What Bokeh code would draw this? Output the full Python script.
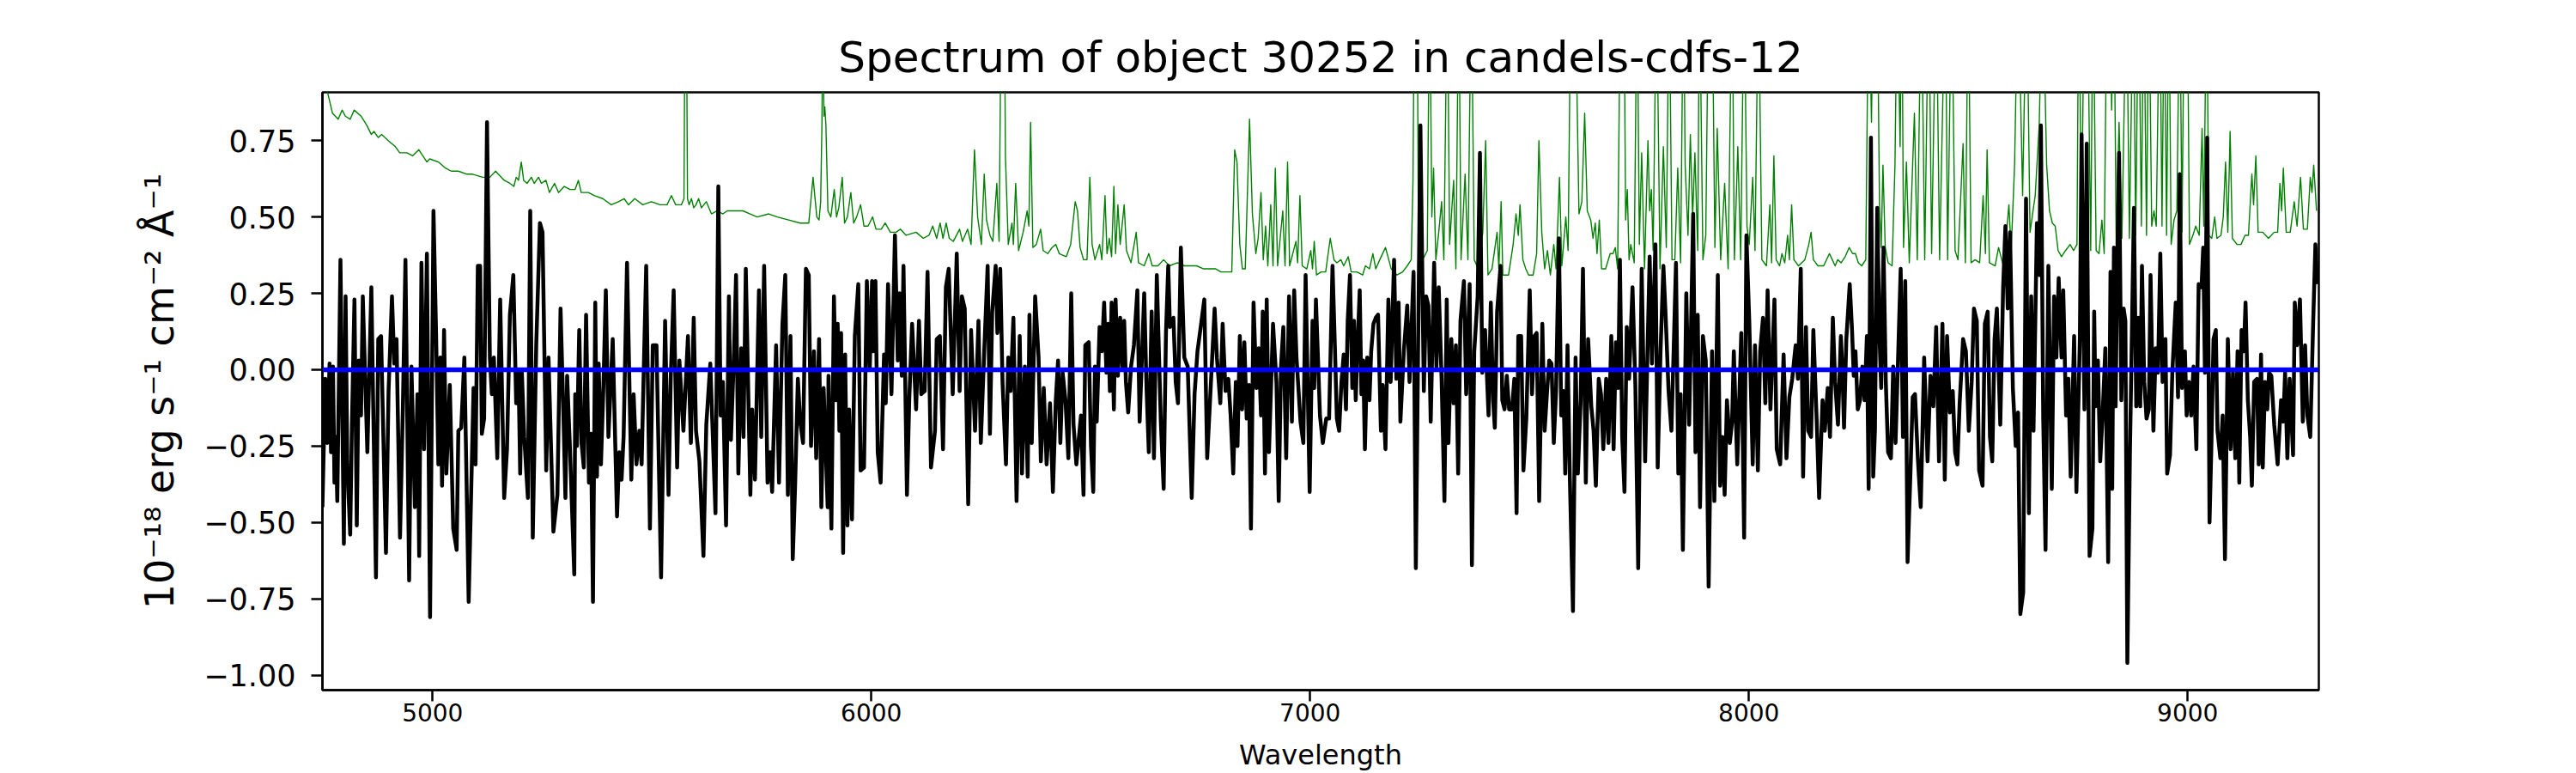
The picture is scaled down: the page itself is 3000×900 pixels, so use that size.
from bokeh.plotting import figure
from bokeh.models import Range1d, FixedTicker, Span
from bokeh.embed import file_html
from bokeh.resources import INLINE

# ---------------- data ----------------
wave_flux = [
    4749.0, 4755.5, 4760.1, 4765.3, 4768.6, 4773.1, 4776.4, 4779.6, 4782.9, 4790.1,
    4797.9, 4801.8, 4805.7, 4812.3, 4816.2, 4822.0, 4827.3, 4831.8, 4837.0, 4841.0,
    4851.4, 4860.5, 4871.0, 4876.2, 4882.7, 4893.8, 4899.7, 4907.5, 4912.7, 4917.9,
    4925.8, 4932.3, 4938.2, 4946.6, 4951.9, 4959.7, 4965.6, 4969.5, 4974.7, 4980.6,
    4987.1, 4994.3, 5002.1, 5008.0, 5013.2, 5017.7, 5021.6, 5026.2, 5031.4, 5039.3,
    5047.1, 5054.9, 5058.8, 5065.4, 5072.5, 5082.3, 5093.4, 5098.0, 5103.2, 5108.4,
    5112.3, 5117.5, 5124.1, 5130.6, 5135.1, 5139.7, 5147.5, 5154.1, 5163.2, 5169.7,
    5176.3, 5184.1, 5190.6, 5195.8, 5199.7, 5203.6, 5208.9, 5217.3, 5222.6, 5228.4,
    5236.3, 5244.7, 5250.6, 5259.1, 5264.3, 5275.4, 5284.5, 5291.7, 5297.6, 5302.8,
    5306.7, 5313.2, 5323.0,
    5325.1, 5329.0, 5334.3, 5339.5, 5344.7, 5349.9, 5356.4, 5361.0, 5365.6, 5370.8,
    5374.7, 5378.6, 5383.8, 5389.1, 5394.9, 5400.8, 5410.6, 5420.4, 5425.6, 5430.8,
    5435.4, 5443.2, 5453.0, 5458.2, 5464.7, 5471.2, 5476.5, 5480.4, 5486.9, 5495.4,
    5501.9, 5510.4, 5520.8, 5530.0, 5537.8, 5543.0, 5549.5, 5557.4, 5562.6, 5571.7,
    5582.1, 5588.7, 5595.2, 5600.4, 5608.2, 5617.4, 5623.9, 5633.0, 5644.8, 5651.3,
    5656.5, 5661.7, 5668.9, 5675.4, 5680.0, 5686.5, 5691.7, 5696.9, 5703.5, 5708.7,
    5713.9, 5724.3, 5728.3, 5734.8, 5743.9, 5749.1, 5755.7, 5763.5, 5769.3, 5773.9,
    5783.0, 5789.6, 5797.4, 5803.9, 5809.8, 5815.7, 5820.9, 5826.1, 5832.6, 5837.8,
    5844.4, 5850.9, 5857.4, 5862.6, 5869.2, 5874.4, 5880.9, 5886.1, 5891.3, 5900.5,
    5902.4, 5909.0, 5914.8, 5919.4, 5923.3, 5927.2, 5931.1, 5935.7, 5940.3, 5945.5,
    5949.4, 5955.9, 5962.4, 5970.3, 5975.5, 5983.3, 5989.8, 5996.4, 6001.6, 6004.2,
    6009.4, 6014.6, 6021.2, 6029.0, 6032.9, 6038.1, 6045.9, 6053.8, 6060.3, 6064.2,
    6069.4, 6073.3, 6081.2, 6086.4, 6092.9, 6102.0, 6108.6, 6113.8, 6121.6, 6128.1,
    6136.0, 6145.1, 6149.0, 6156.2, 6163.4, 6169.9, 6176.4, 6185.5, 6194.7, 6201.2,
    6206.4, 6212.9, 6220.8, 6227.3, 6236.4, 6244.2, 6249.5, 6257.3, 6265.1, 6270.3,
    6275.5, 6283.4, 6287.3, 6293.8, 6299.0, 6306.9, 6312.1, 6317.3, 6323.8, 6331.0,
    6338.2, 6343.4, 6349.9, 6356.4, 6360.4, 6365.6, 6373.4, 6381.2, 6386.4, 6393.0,
    6399.5, 6407.3, 6413.8, 6420.4, 6425.6, 6430.8, 6436.0, 6442.5, 6449.1, 6455.6,
    6460.8, 6467.3, 6477.8,
    6483.6, 6487.6, 6495.4, 6500.6, 6505.8, 6509.7, 6513.7, 6520.2, 6525.4, 6530.6,
    6535.8, 6539.7, 6543.7, 6547.6, 6552.8, 6556.7, 6561.9, 6567.1, 6572.4, 6576.3,
    6580.2, 6585.4, 6591.9, 6598.5, 6606.3, 6611.5, 6616.7, 6621.9, 6627.2, 6632.4,
    6638.9, 6644.1, 6650.6, 6659.8, 6666.3, 6671.5, 6676.7, 6680.6, 6688.5, 6693.7,
    6698.9, 6705.4, 6713.3, 6721.1, 6730.2, 6736.7, 6743.3, 6749.8, 6758.9, 6765.4,
    6772.0, 6782.4, 6787.6, 6795.4, 6800.7, 6807.2, 6813.7, 6818.9, 6824.8, 6830.7,
    6834.6, 6839.8, 6845.0, 6850.2, 6855.5, 6860.7, 6865.2, 6871.1, 6877.6, 6882.9,
    6888.1, 6892.0, 6897.2, 6901.1, 6906.3, 6915.5, 6923.3, 6928.5, 6933.7, 6939.0,
    6945.5, 6952.0, 6958.5, 6963.7, 6969.0, 6978.1, 6984.6, 6989.8, 6999.0, 7005.5,
    7009.4, 7013.3, 7022.5, 7029.0, 7036.8, 7043.3, 7051.1, 7056.4,
    7061.0, 7066.2, 7071.4, 7076.6, 7081.8, 7085.7, 7090.9, 7096.2, 7100.1, 7104.0,
    7107.9, 7113.1, 7117.0, 7121.0, 7124.9, 7130.1, 7135.3, 7139.2, 7144.4, 7149.7,
    7154.9, 7161.4, 7165.3, 7171.8, 7178.4, 7183.6, 7191.4, 7196.6, 7201.8, 7205.8,
    7213.6, 7221.4, 7226.6, 7235.8, 7241.0, 7251.4, 7259.2, 7264.5, 7269.7, 7274.9,
    7282.7, 7287.9, 7293.2, 7299.7, 7306.2, 7311.4, 7315.3, 7321.9, 7327.1, 7332.3,
    7337.5, 7342.7, 7350.6, 7355.8, 7363.6, 7368.8, 7374.1, 7381.9, 7387.1, 7392.3,
    7398.8, 7406.7, 7411.9, 7417.1, 7421.0, 7426.2, 7434.1, 7438.0, 7443.2, 7448.4,
    7453.6, 7460.2, 7465.4, 7470.6, 7474.5, 7481.0, 7486.2, 7492.8, 7500.6, 7505.8,
    7511.0, 7516.3, 7522.1, 7529.3, 7534.5, 7539.7, 7545.0, 7550.2, 7555.4, 7560.6,
    7567.1, 7572.4, 7577.6, 7581.5, 7586.7, 7591.9, 7599.1, 7605.0, 7610.2, 7616.7,
    7621.9, 7628.4, 7633.7,
    7640.9, 7646.1, 7651.3, 7657.8, 7663.0, 7668.2, 7674.8, 7680.0, 7686.5, 7691.7,
    7697.0, 7702.2, 7706.1, 7711.3, 7716.5, 7721.7, 7727.0, 7734.8, 7741.3, 7747.8,
    7755.7, 7763.5, 7768.7, 7773.9, 7779.1, 7787.0, 7792.2, 7798.7, 7805.2, 7810.5,
    7817.0, 7823.5, 7828.7, 7833.9, 7839.2, 7844.4, 7849.6, 7857.4, 7863.9, 7873.1,
    7878.3, 7883.5, 7888.7, 7895.3, 7901.8, 7908.3, 7916.1, 7921.3, 7929.2, 7934.4,
    7939.6, 7944.8, 7950.0, 7956.6, 7961.8, 7965.7, 7973.5, 7982.7, 7989.2, 7994.4,
    8000.9, 8008.8, 8014.0, 8020.5, 8025.7, 8032.2, 8037.5, 8042.7, 8049.2, 8058.3,
    8063.5, 8071.4, 8079.2, 8085.7, 8092.3, 8098.8, 8106.6, 8111.8, 8118.3, 8123.6,
    8130.1, 8135.3, 8141.8, 8147.0, 8154.9, 8160.1, 8167.9, 8173.1, 8179.7, 8184.9,
    8191.4, 8196.6, 8203.1, 8209.7,
    8212.9, 8216.9, 8222.1, 8229.9, 8235.1, 8239.0, 8243.0, 8248.2, 8253.4, 8258.6,
    8263.8, 8269.0, 8273.0, 8278.2, 8283.4, 8287.3, 8292.5, 8297.7, 8301.6, 8306.9,
    8312.1, 8317.3, 8323.8, 8329.0, 8334.3, 8339.5, 8346.0, 8351.2, 8356.4, 8361.7,
    8368.2, 8373.4, 8378.6, 8385.1, 8391.7, 8399.5, 8407.3, 8413.8, 8420.4, 8426.9,
    8433.4, 8441.2, 8446.5, 8451.7, 8458.2, 8464.7, 8470.0, 8475.2, 8480.4, 8488.2,
    8494.7, 8501.3, 8507.8, 8513.0, 8519.5, 8524.7, 8532.6, 8537.8, 8544.3, 8549.5,
    8554.7, 8560.0, 8565.2, 8573.0, 8579.5, 8584.7, 8590.0, 8595.2, 8601.7, 8608.2,
    8613.5, 8618.7, 8625.2, 8631.7, 8638.2, 8643.5, 8648.7, 8656.5, 8661.7, 8665.6,
    8670.9, 8676.1, 8682.6, 8690.4, 8695.7, 8700.9, 8706.1, 8712.6, 8716.5, 8723.0,
    8728.3, 8733.5, 8741.3, 8746.5, 8754.4, 8758.3, 8764.8, 8770.0, 8776.5, 8783.0,
    8787.0,
    8790.2, 8795.5, 8800.7, 8805.9, 8812.4, 8818.9, 8824.2, 8828.1, 8832.0, 8835.9,
    8839.8, 8843.7, 8848.9, 8854.2, 8858.1, 8862.6, 8868.5, 8877.6, 8882.9, 8888.1,
    8892.0, 8895.9, 8901.1, 8906.3, 8911.6, 8915.5, 8922.0, 8927.2, 8932.4, 8937.7,
    8942.9, 8949.4, 8953.3, 8959.8, 8965.1, 8972.9, 8978.1, 8982.0, 8987.2, 8993.8,
    8997.7, 9002.9, 9008.1, 9013.3, 9019.9, 9025.1, 9031.6, 9035.5, 9039.4, 9044.6,
    9049.9, 9053.8, 9059.0, 9064.2, 9068.1, 9074.6, 9079.9, 9085.1, 9091.6, 9098.1,
    9103.3, 9108.6, 9113.8, 9117.7, 9122.9, 9128.1, 9132.0, 9137.3, 9142.5, 9146.4,
    9151.6, 9158.1, 9162.0, 9167.3, 9171.2, 9176.4, 9181.6, 9185.5, 9190.8, 9197.3,
    9205.1, 9212.9, 9218.1, 9222.1, 9227.3, 9232.5, 9240.3, 9244.2, 9249.4, 9256.0,
    9262.5, 9267.7, 9272.9, 9279.5, 9286.0, 9291.2, 9295.1,
]

flux = [
    -0.45, -0.03, -0.24, 0.02, -0.27, 0.01, -0.37, -0.22, -0.43, 0.36,
    -0.57, 0.24, -0.31, -0.54, -0.18, 0.23, -0.51, 0.03, -0.15, 0.24,
    -0.27, 0.27, -0.68, 0.10, 0.11, -0.60, -0.07, 0.24, 0.02, 0.10,
    -0.55, -0.13, 0.36, -0.69, 0.01, -0.45, -0.08, -0.61, 0.35, -0.26,
    0.38, -0.81, 0.52, 0.12, -0.31, 0.04, -0.38, 0.13, -0.34, -0.05,
    -0.52, -0.59, -0.20, -0.19, 0.04, -0.76, -0.06, -0.31, 0.34, 0.34,
    -0.21, -0.16, 0.81, 0.04, -0.08, 0.04, -0.29, 0.23, -0.42, -0.26,
    0.18, 0.31, -0.11, 0.00, -0.34, -0.01, -0.22, -0.42, 0.52, -0.55,
    0.08, 0.48, 0.45, -0.33, 0.04, -0.53, -0.41, 0.20, -0.11, -0.42,
    -0.02, -0.26, -0.67,
    -0.08, -0.25, 0.13, -0.24, -0.32, 0.18, -0.37, -0.21, -0.76, 0.22,
    -0.35, 0.02, -0.31, -0.07, 0.26, -0.22, 0.10, -0.48, -0.27, -0.36,
    -0.22, 0.35, -0.36, -0.08, -0.31, -0.20, -0.31, -0.06, 0.34, -0.52,
    0.08, 0.08, -0.68, 0.16, -0.41, -0.02, 0.26, -0.32, 0.03, -0.20,
    0.11, -0.24, 0.17, -0.20, -0.30, -0.61, -0.18, 0.02, -0.47, 0.60,
    -0.15, -0.04, -0.51, 0.24, -0.23, 0.03, 0.31, -0.34, 0.07, -0.22,
    0.33, -0.41, -0.13, -0.36, 0.26, -0.22, 0.34, -0.37, -0.27, -0.40,
    0.08, -0.37, 0.15, 0.31, -0.41, 0.11, -0.62, -0.39, -0.03, -0.17,
    -0.24, 0.33, 0.31, -0.25, 0.06, -0.29, 0.10, -0.45, -0.06, -0.45,
    -0.02, -0.52, 0.24, -0.10, 0.15, -0.20, 0.12, -0.60, 0.05, -0.51,
    -0.13, -0.49, 0.11, 0.28, -0.33, -0.32, 0.29, 0.00, 0.29, 0.06,
    0.29, -0.27, -0.37, 0.05, -0.11, 0.28, -0.08, 0.44, 0.03, 0.25,
    -0.02, 0.34, -0.41, -0.10, 0.15, -0.13, 0.16, -0.08, -0.07, 0.32,
    -0.32, -0.20, 0.10, 0.11, -0.26, 0.27, 0.33, -0.08, 0.38, -0.07,
    0.24, 0.20, -0.44, 0.13, -0.20, 0.16, -0.24, 0.06, 0.34, -0.21,
    0.19, 0.34, 0.12, 0.33, -0.04, -0.31, 0.04, -0.07, 0.17, -0.43,
    0.11, -0.34, 0.01, -0.35, 0.18, -0.24, 0.24, 0.04, -0.30, -0.06,
    -0.31, -0.11, -0.40, -0.10, 0.03, -0.24, -0.01, -0.10, -0.29, 0.25,
    -0.18, -0.31, -0.15,
    -0.41, 0.08, 0.09, -0.25, -0.40, 0.01, -0.17, 0.14, 0.06, 0.22,
    -0.01, 0.15, -0.07, 0.22, -0.13, 0.23, -0.02, 0.17, 0.01, 0.16,
    -0.04, -0.14, 0.01, 0.08, 0.26, -0.17, 0.04, 0.25, -0.06, -0.27,
    0.19, -0.29, 0.31, -0.17, -0.39, 0.12, 0.34, 0.14, 0.17, -0.04,
    -0.11, 0.40, 0.04, 0.01, -0.42, -0.08, 0.06, 0.13, 0.23, -0.29,
    -0.10, 0.20, 0.04, -0.11, 0.15, -0.07, -0.03, -0.15, -0.34, -0.04,
    -0.25, 0.11, -0.13, 0.09, -0.16, -0.05, -0.52, 0.22, -0.06, 0.07,
    -0.15, 0.19, -0.34, 0.23, -0.27, 0.15, -0.04, -0.43, 0.01, 0.14,
    -0.29, 0.24, -0.17, 0.26, 0.04, -0.17, -0.24, 0.31, -0.40, 0.16,
    -0.06, 0.23, -0.15, -0.24, -0.16, -0.16, 0.34, 0.08,
    -0.16, -0.20, -0.04, 0.05, -0.13, 0.16, 0.31, -0.06, 0.16, -0.10,
    0.07, 0.26, -0.08, 0.03, -0.26, 0.04, -0.10, 0.06, 0.15, 0.17,
    0.18, -0.20, -0.05, -0.26, 0.23, -0.04, 0.36, -0.03, 0.22, -0.17,
    0.06, 0.21, -0.04, 0.32, -0.65, 0.80, -0.07, 0.24, 0.21, -0.17,
    0.35, 0.01, 0.27, -0.03, -0.43, 0.23, -0.24, 0.10, -0.11, 0.08,
    -0.34, 0.16, 0.29, -0.08, 0.28, -0.64, 0.06, 0.24, 0.71, -0.01,
    0.13, -0.15, 0.22, -0.10, -0.19, 0.19, 0.34, -0.10, -0.13, -0.02,
    -0.13, -0.13, -0.03, -0.47, 0.11, 0.11, -0.33, -0.16, 0.26, -0.08,
    0.11, 0.12, -0.43, 0.15, -0.20, -0.08, 0.03, 0.02, -0.24, -0.07,
    0.43, -0.15, -0.07, -0.34, 0.08, -0.35, -0.79, 0.04, -0.34, -0.10,
    0.33, -0.37, 0.10,
    -0.12, -0.20, -0.38, -0.03, -0.08, -0.26, -0.03, -0.24, 0.11, -0.26,
    0.09, -0.06, 0.36, -0.22, -0.40, 0.14, -0.03, 0.27, -0.05, -0.65,
    0.33, -0.30, 0.04, 0.37, 0.02, 0.41, -0.32, 0.06, 0.34, 0.17,
    -0.07, -0.20, 0.07, 0.35, -0.34, -0.08, -0.59, 0.25, -0.18, 0.51,
    -0.27, 0.18, -0.45, 0.11, 0.03, -0.71, 0.06, -0.43, 0.31, -0.38,
    -0.22, -0.41, -0.10, -0.24, -0.17, 0.06, -0.31, 0.12, -0.55, 0.44,
    0.16, -0.31, 0.08, -0.33, 0.06, 0.17, -0.11, 0.26, -0.13, 0.23,
    -0.26, -0.31, 0.05, -0.29, -0.09, -0.03, 0.08, -0.03, 0.33, -0.35,
    0.14, -0.20, -0.22, 0.13, -0.18, -0.42, -0.10, -0.20, -0.06, -0.22,
    0.17, -0.04, -0.18, 0.11,
    0.01, -0.19, 0.10, 0.28, 0.13, -0.02, 0.06, -0.13, -0.10, 0.01,
    -0.10, 0.11, -0.39, 0.76, -0.35, -0.20, 0.53, 0.11, -0.06, 0.40,
    -0.04, -0.27, -0.29, 0.01, -0.24, 0.01, 0.33, -0.22, 0.29, -0.63,
    -0.34, -0.09, -0.08, -0.29, -0.45, 0.04, -0.30, -0.02, -0.12, 0.14,
    -0.30, 0.15, -0.36, 0.11, -0.14, -0.07, -0.27, -0.31, -0.11, 0.10,
    0.06, -0.20, -0.04, 0.20, 0.16, -0.33, -0.38, 0.15, 0.19, -0.22,
    -0.30, 0.10, 0.20, -0.18, 0.27, 0.47, 0.20, 0.45, -0.06, -0.25,
    -0.14, -0.80, -0.73, 0.56, -0.47, 0.24, -0.20, 0.48, 0.31, 0.80,
    -0.16, -0.59, 0.34, -0.39, 0.24, 0.04, 0.30, 0.04, 0.26, -0.15,
    -0.03, -0.35, 0.11, -0.40, 0.10, 0.77, -0.13, 0.74, -0.61, -0.52,
    0.19,
    -0.12, 0.03, -0.30, -0.16, 0.07, -0.63, 0.32, -0.39, 0.40, -0.12,
    0.36, 0.71, -0.10, 0.20, 0.16, -0.96, -0.27, 0.53, -0.12, 0.17,
    -0.12, 0.34, -0.04, -0.16, -0.13, 0.31, -0.20, 0.07, -0.01, 0.38,
    -0.04, 0.10, -0.34, -0.28, -0.01, 0.22, -0.09, 0.64, -0.06, 0.06,
    -0.15, -0.04, -0.15, 0.01, -0.26, 0.28, 0.27, 0.40, -0.01, 0.76,
    -0.50, -0.27, 0.10, 0.13, -0.20, -0.29, -0.15, -0.62, 0.10, -0.26,
    -0.01, -0.29, 0.06, -0.37, 0.13, 0.06, 0.22, -0.10, -0.22, -0.38,
    -0.04, -0.03, -0.31, 0.05, -0.32, -0.04, -0.13, -0.01, -0.02, -0.18,
    -0.31, -0.10, -0.17, -0.01, -0.29, -0.03, -0.28, 0.22, 0.08, 0.23,
    -0.17, 0.08, -0.15, -0.22, 0.15, 0.41, 0.28,
]

wave_noise = [
    4749.0, 4762.0, 4771.8, 4784.9, 4794.0, 4801.2, 4812.3, 4821.4, 4837.0, 4850.1,
    4860.5, 4866.4, 4876.2, 4884.0, 4899.0, 4915.3, 4925.1, 4941.4, 4954.5, 4968.8,
    4987.1, 4993.6, 5013.2, 5029.5, 5042.5, 5058.8, 5078.4, 5091.4, 5114.3, 5130.6,
    5143.6, 5163.2, 5176.3, 5185.4, 5190.6, 5195.8, 5202.3, 5207.6, 5215.4, 5225.2,
    5231.7, 5241.5, 5248.0, 5258.4, 5266.3, 5278.0, 5287.1, 5300.2, 5313.2, 5325.0,
    5332.3, 5338.8, 5355.1, 5368.2, 5387.8, 5407.3, 5423.6, 5436.7, 5446.5, 5460.8,
    5479.1, 5498.6, 5518.2, 5534.5, 5544.3, 5554.1, 5567.1, 5573.0, 5575.5, 5578.5,
    5581.0, 5584.7, 5590.0, 5595.2, 5600.4, 5606.3, 5612.8, 5623.9, 5635.6, 5648.7,
    5661.7, 5671.5, 5691.1, 5707.4, 5723.7, 5740.0, 5766.1, 5785.7, 5811.7, 5837.8,
    5857.4, 5867.2, 5875.7, 5880.9, 5884.5, 5887.4, 5889.5, 5892.0, 5894.0, 5896.5,
    5901.1, 5907.7, 5915.5, 5920.7, 5925.9, 5933.7, 5939.0, 5945.5, 5953.3, 5959.8,
    5966.4, 5975.5, 5983.3, 5992.5, 6002.9, 6010.7, 6022.5, 6031.6, 6043.3, 6056.4,
    6066.2, 6079.2, 6102.0, 6118.3, 6131.4, 6139.9, 6149.0, 6156.8, 6163.4, 6170.5,
    6177.7, 6186.8, 6201.2, 6207.7, 6219.5, 6227.3, 6235.1, 6242.3, 6250.8, 6257.3,
    6262.5, 6270.3, 6276.9, 6286.0, 6291.2, 6296.4, 6303.0, 6305.6, 6312.1, 6320.6,
    6323.8, 6329.0, 6335.6, 6346.0, 6355.1, 6359.0, 6363.0, 6368.2, 6376.0, 6385.8,
    6391.7, 6402.1, 6411.9, 6420.4, 6428.2, 6444.5, 6454.3, 6464.7, 6469.9,
    6475.8, 6483.6, 6491.5, 6498.0, 6503.2, 6509.7, 6520.2, 6525.4, 6532.6, 6537.1,
    6542.4, 6547.6, 6552.8, 6556.7, 6561.9, 6567.1, 6576.3, 6581.5, 6591.9, 6603.7,
    6608.9, 6621.9, 6632.4, 6640.2, 6653.2, 6666.3, 6679.3, 6697.6, 6713.3, 6730.2,
    6741.3, 6757.6, 6785.0, 6796.8, 6821.5, 6828.1, 6833.3, 6839.8, 6845.7, 6852.2,
    6862.0, 6868.5, 6876.3, 6881.6, 6888.1, 6893.3, 6898.5, 6903.7, 6910.3, 6915.5,
    6920.7, 6925.9, 6937.7, 6942.9, 6948.7, 6953.3, 6967.7, 6971.6, 6976.8, 6982.0,
    6992.4, 7001.6, 7005.5, 7009.4, 7014.6, 7025.1, 7035.5, 7045.9,
    7054.4, 7061.0, 7070.1, 7076.6, 7087.0, 7093.6, 7106.6, 7119.7, 7126.2, 7135.3,
    7143.1, 7149.7, 7158.8, 7171.8, 7184.9, 7197.9, 7211.0, 7221.4, 7230.5, 7234.5,
    7238.4, 7243.6, 7246.9, 7256.6, 7267.1, 7272.3, 7277.5, 7281.4, 7286.6, 7293.2,
    7299.7, 7304.9, 7312.7, 7318.0, 7327.1, 7332.3, 7338.8, 7344.0, 7353.2, 7359.7,
    7367.5, 7374.1, 7383.2, 7393.6, 7400.1, 7405.4, 7414.5, 7426.2, 7430.2, 7435.4,
    7439.3, 7452.3, 7462.8, 7469.3, 7474.5, 7478.4, 7485.0, 7491.5, 7498.0, 7508.4,
    7516.3, 7521.5, 7528.0, 7534.5, 7541.0, 7547.6, 7555.4, 7560.6, 7568.4, 7573.7,
    7582.8, 7588.0, 7594.5, 7603.7, 7612.8, 7619.3, 7625.8,
    7631.7, 7639.6, 7644.8, 7650.0, 7653.9, 7659.1, 7664.3, 7673.5, 7683.9, 7690.4,
    7695.6, 7700.9, 7707.4, 7715.2, 7719.1, 7723.0, 7727.0, 7730.9, 7738.7, 7745.2,
    7750.4, 7755.7, 7762.2, 7770.0, 7773.9, 7777.8, 7781.8, 7789.6, 7797.4, 7805.2,
    7811.8, 7818.3, 7824.8, 7831.3, 7837.9, 7844.4, 7850.9, 7854.8, 7861.3, 7866.6,
    7871.8, 7877.0, 7883.5, 7887.4, 7895.3, 7901.8, 7908.3, 7916.1, 7922.6, 7927.9,
    7935.7, 7944.8, 7952.7, 7961.8, 7967.0, 7974.8, 7981.4, 7989.2, 7995.7, 8000.9,
    8008.8, 8014.0, 8021.8, 8029.6, 8040.1, 8047.9, 8051.8, 8057.0, 8062.2, 8070.1,
    8075.3, 8081.8, 8088.3, 8092.3, 8097.5, 8102.7, 8113.1, 8127.5, 8136.6, 8141.8,
    8147.0, 8157.5, 8170.5, 8183.6, 8190.1, 8196.6,
    8202.5, 8210.3, 8219.5, 8228.6, 8236.4, 8242.9, 8249.5, 8257.3, 8266.4, 8272.9,
    8279.5, 8283.4, 8292.5, 8297.7, 8301.6, 8305.6, 8310.8, 8317.3, 8326.4, 8333.0,
    8338.2, 8344.7, 8348.6, 8352.5, 8359.1, 8365.6, 8377.3, 8383.8, 8393.0, 8400.8,
    8409.9, 8416.5, 8426.9, 8434.7, 8447.8, 8453.0, 8462.1, 8470.0, 8476.5, 8488.2,
    8493.4, 8500.0, 8506.5, 8515.6, 8526.0, 8533.9, 8539.1, 8543.0, 8548.2, 8561.3,
    8569.1, 8578.2, 8587.4, 8592.6, 8597.8, 8605.6, 8613.5, 8623.9, 8633.0, 8640.8,
    8652.6, 8661.7, 8669.6, 8678.7, 8685.2, 8691.7, 8698.2, 8704.8, 8712.6, 8721.7,
    8732.2, 8740.0, 8747.8, 8751.7, 8758.3, 8764.8, 8771.3, 8779.1, 8784.4,
    8791.5, 8798.1, 8804.6, 8809.8, 8816.3, 8822.9, 8826.8, 8832.0, 8837.2, 8843.7,
    8850.2, 8860.7, 8867.2, 8876.3, 8881.6, 8888.1, 8894.6, 8899.8, 8906.3, 8911.6,
    8918.1, 8923.3, 8928.5, 8936.4, 8941.6, 8946.8, 8952.0, 8957.2, 8962.4, 8969.0,
    8975.5, 8982.0, 8987.2, 8992.5, 8999.0, 9004.2, 9012.0, 9018.5, 9026.4, 9032.9,
    9036.8, 9043.3, 9048.5, 9055.1, 9061.6, 9066.8, 9076.0, 9081.2, 9086.4, 9091.6,
    9096.8, 9102.0, 9112.5, 9121.6, 9130.7, 9138.6, 9146.4, 9150.3, 9155.5, 9160.7,
    9171.2, 9184.2, 9197.3, 9205.1, 9210.3, 9214.2, 9218.1, 9224.7, 9233.8, 9242.9,
    9249.4, 9257.3, 9263.8, 9272.9, 9279.5, 9283.4, 9287.3, 9293.8,
]

noise = [
    0.97, 0.90, 0.84, 0.82, 0.85, 0.83, 0.82, 0.85, 0.83, 0.80,
    0.77, 0.78, 0.76, 0.77, 0.75, 0.73, 0.71, 0.71, 0.70, 0.72,
    0.68, 0.69, 0.68, 0.66, 0.65, 0.65, 0.64, 0.64, 0.63, 0.63,
    0.65, 0.62, 0.61, 0.60, 0.63, 0.62, 0.68, 0.62, 0.61, 0.63,
    0.61, 0.63, 0.61, 0.62, 0.58, 0.61, 0.58, 0.60, 0.59, 0.59,
    0.62, 0.58, 0.58, 0.57, 0.56, 0.54, 0.55, 0.56, 0.54, 0.56,
    0.54, 0.55, 0.54, 0.54, 0.57, 0.54, 0.54, 0.56, 1.25, 1.25,
    0.56, 0.54, 0.56, 0.53, 0.54, 0.56, 0.53, 0.55, 0.51, 0.52,
    0.51, 0.52, 0.52, 0.52, 0.51, 0.50, 0.51, 0.50, 0.49, 0.48,
    0.48, 0.63, 0.50, 0.49, 0.55, 0.80, 1.20, 0.83, 0.86, 0.80,
    0.52, 0.50, 0.59, 0.50, 0.53, 0.63, 0.48, 0.50, 0.58, 0.48,
    0.50, 0.54, 0.47, 0.47, 0.50, 0.46, 0.46, 0.48, 0.45, 0.45,
    0.46, 0.44, 0.45, 0.43, 0.44, 0.47, 0.43, 0.48, 0.43, 0.48,
    0.43, 0.42, 0.46, 0.42, 0.46, 0.41, 0.72, 0.50, 0.41, 0.64,
    0.49, 0.44, 0.42, 0.61, 0.42, 1.30, 1.30, 0.70, 0.41, 0.48,
    0.41, 0.61, 0.39, 0.45, 0.52, 0.47, 0.81, 0.40, 0.41, 0.46,
    0.39, 0.38, 0.40, 0.41, 0.38, 0.37, 0.41, 0.55, 0.52,
    0.40, 0.36, 0.36, 0.63, 0.41, 0.36, 0.41, 0.36, 0.57, 0.38,
    0.43, 0.37, 0.60, 0.38, 0.54, 0.41, 0.54, 0.39, 0.35, 0.45,
    0.35, 0.34, 0.38, 0.34, 0.34, 0.36, 0.34, 0.35, 0.34, 0.34,
    0.34, 0.33, 0.33, 0.32, 0.32, 0.72, 0.68, 0.41, 0.33, 0.33,
    0.82, 0.51, 0.38, 0.43, 0.58, 0.36, 0.47, 0.34, 0.54, 0.34,
    0.66, 0.34, 0.52, 0.34, 0.68, 0.34, 0.42, 0.35, 0.57, 0.34,
    0.33, 0.39, 0.33, 0.42, 0.31, 0.32, 0.32, 0.43,
    0.36, 0.35, 0.36, 0.34, 0.37, 0.32, 0.32, 0.31, 0.34, 0.33,
    0.38, 0.33, 0.36, 0.40, 0.33, 0.31, 0.32, 0.34, 0.36, 0.62,
    1.40, 1.40, 0.44, 0.36, 0.39, 1.30, 0.50, 0.66, 0.36, 0.45,
    0.55, 0.36, 1.30, 0.41, 0.62, 0.33, 1.30, 0.36, 0.64, 0.36,
    1.30, 0.36, 0.33, 0.45, 0.75, 0.31, 0.33, 0.45, 0.33, 0.55,
    0.31, 0.31, 0.41, 0.51, 0.44, 0.54, 0.36, 0.33, 0.31, 0.31,
    0.38, 0.75, 0.45, 0.33, 0.39, 0.31, 0.41, 0.33, 0.63, 0.34,
    0.50, 0.39, 1.30, 1.30, 0.51, 0.55, 0.84,
    0.52, 0.49, 0.43, 0.48, 0.38, 0.49, 0.33, 0.33, 0.38, 0.38,
    0.40, 0.33, 1.30, 1.30, 0.49, 0.59, 0.36, 0.41, 0.35, 1.30,
    0.41, 0.71, 0.33, 0.75, 0.52, 0.59, 0.39, 1.30, 0.33, 0.73,
    0.40, 1.30, 0.36, 0.36, 0.66, 0.35, 1.30, 0.67, 0.44, 0.77,
    0.50, 0.71, 0.39, 1.30, 0.36, 0.44, 1.30, 1.30, 0.40, 0.79,
    0.36, 0.61, 0.33, 1.30, 0.36, 0.73, 0.36, 1.30, 0.47, 0.41,
    0.63, 0.39, 1.30, 0.36, 0.34, 0.54, 0.35, 0.70, 0.36, 0.34,
    0.38, 0.35, 0.44, 0.36, 0.54, 0.36, 0.34, 0.36, 0.41, 0.45,
    0.36, 0.34, 0.34, 0.38, 0.36, 0.34,
    0.36, 0.35, 0.37, 0.40, 0.38, 0.38, 0.35, 0.34, 0.36, 1.30,
    0.81, 1.30, 1.30, 0.54, 0.40, 0.67, 0.40, 0.35, 0.34, 0.67,
    1.30, 0.73, 1.30, 0.40, 0.68, 0.35, 0.84, 0.36, 1.30, 0.36,
    1.30, 0.38, 1.30, 0.36, 1.30, 0.36, 1.30, 0.39, 0.36, 0.74,
    0.35, 1.30, 0.35, 0.36, 0.35, 0.57, 0.38, 0.72, 0.35, 0.34,
    0.40, 0.35, 0.45, 0.54, 0.39, 0.67, 1.30, 0.57, 1.30, 0.45,
    0.57, 0.80, 1.30, 0.67, 0.52, 0.48, 0.47, 0.39, 0.37, 0.39,
    0.41, 0.39, 0.41, 1.30, 0.48, 1.30, 1.30, 0.39, 1.30,
    0.39, 0.38, 0.49, 0.38, 1.30, 1.30, 0.85, 1.30, 0.41, 0.81,
    0.43, 1.30, 0.43, 1.30, 0.44, 1.30, 0.47, 1.30, 0.44, 1.30,
    0.47, 0.52, 0.47, 1.30, 0.47, 1.30, 0.44, 1.30, 0.41, 0.49,
    0.52, 1.30, 0.45, 1.30, 1.30, 0.41, 0.44, 0.47, 0.44, 0.79,
    0.47, 1.30, 0.44, 0.43, 0.50, 0.43, 0.44, 0.50, 0.68, 0.45,
    0.78, 0.43, 0.41, 0.41, 0.44, 0.44, 0.64, 0.54, 0.70, 0.45,
    0.45, 0.43, 0.45, 0.45, 0.61, 0.52, 0.66, 0.45, 0.45, 0.55,
    0.47, 0.63, 0.46, 0.46, 0.63, 0.58, 0.67, 0.52,
]

zero_level = 0.0

x_limits = [4749.0, 9299.0]
y_limits = [-1.049, 0.908]
x_ticks = [5000, 6000, 7000, 8000, 9000]
x_tick_labels = ["5000", "6000", "7000", "8000", "9000"]
y_ticks = [-1.0, -0.75, -0.5, -0.25, 0.0, 0.25, 0.5, 0.75]
y_tick_labels = ["\u22121.00", "\u22120.75", "\u22120.50", "\u22120.25",
                 "0.00", "0.25", "0.50", "0.75"]

title_text = "Spectrum of object 30252 in candels-cdfs-12"
x_label = "Wavelength"
y_label = "10\u207b\u00b9\u2078 erg s\u207b\u00b9 cm\u207b\u00b2 \u00c5\u207b\u00b9"

# ---------------- figure ----------------
FONT = "DejaVu Sans"

p = figure(width=2980, height=900, output_backend="svg", toolbar_location=None,
           x_range=Range1d(*x_limits), y_range=Range1d(*y_limits),
           min_border_left=375, min_border_right=280, min_border_top=107,
           min_border_bottom=0, title=title_text)

p.title.text_font = FONT
p.title.text_font_size = "50px"
p.title.text_font_style = "normal"
p.title.text_color = "black"
p.title.align = "center"
p.title.standoff = 24

p.grid.visible = False
p.background_fill_color = "white"
p.border_fill_color = "white"
p.outline_line_color = "black"
p.outline_line_width = 2.5
p.outline_line_alpha = 1.0

for ax in (p.xaxis[0], p.yaxis[0]):
    ax.axis_line_color = "black"
    ax.axis_line_width = 2.5
    ax.major_tick_line_color = "black"
    ax.major_tick_line_width = 2.5
    ax.major_tick_out = 13
    ax.major_tick_in = 0
    ax.minor_tick_out = 0
    ax.minor_tick_in = 0
    ax.major_label_text_color = "black"
    ax.major_label_text_font = FONT
    ax.axis_label_text_font = FONT
    ax.axis_label_text_font_style = "normal"
    ax.axis_label_text_color = "black"

xa = p.xaxis[0]
xa.ticker = FixedTicker(ticks=x_ticks)
xa.major_label_overrides = dict(zip(x_ticks, x_tick_labels))
xa.major_label_text_font_size = "28px"
xa.major_label_standoff = 2
xa.axis_label = x_label
xa.axis_label_text_font_size = "32px"
xa.axis_label_standoff = 17

ya = p.yaxis[0]
ya.ticker = FixedTicker(ticks=y_ticks)
ya.major_label_overrides = dict(zip(y_ticks, y_tick_labels))
ya.major_label_text_font_size = "35px"
ya.major_label_standoff = 18
ya.axis_label = y_label
ya.axis_label_text_font_size = "46px"
ya.axis_label_standoff = 21

p.line(wave_noise, noise, line_color="green", line_width=1.4, line_join="round")
p.line(wave_flux, flux, line_color="black", line_width=4.5, line_join="round")
p.add_layout(Span(location=zero_level, dimension="width",
                  line_color="blue", line_width=5.5))

open("out.html", "w").write(file_html(p, INLINE, title="Spectrum"))
